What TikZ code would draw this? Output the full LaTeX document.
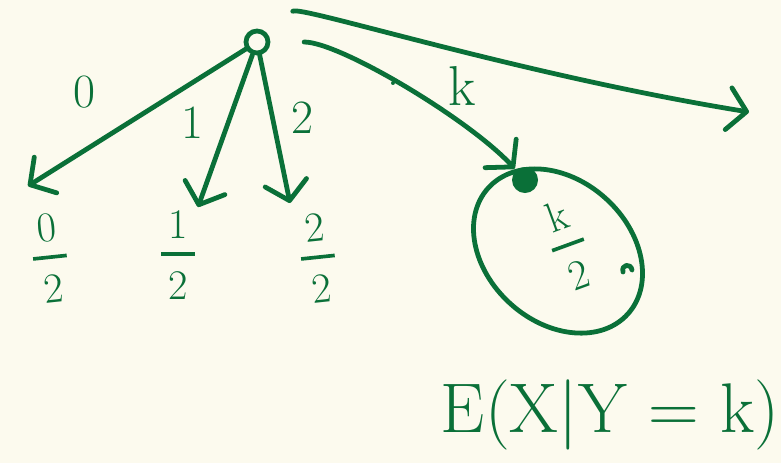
\documentclass[tikz,border=0pt]{standalone}
\usetikzlibrary{arrows.meta, shapes.geometric}
\definecolor{ink}{RGB}{10,112,56}
\definecolor{paper}{RGB}{252,250,238}
\newcommand{\inkfrac}[2]{#1\\\rule[9.2pt]{0.8em}{2.6pt}\\#2}

\begin{document}
\begin{tikzpicture}[
    x=0.025cm, y=-0.025cm,
    color=ink,
    line width=3.4pt, line cap=round, line join=round,
    >={Straight Barb[length=13pt, width=30pt, round]},
    edge/.style={->, draw=ink},
    rootnode/.style={draw=ink, circle, minimum size=0.55cm, inner sep=0pt},
    blobnode/.style={fill=ink, circle, minimum size=0.65cm, inner sep=0pt},
    ballnode/.style={draw=ink, ellipse, minimum width=4.7cm, minimum height=3.55cm, inner sep=0pt},
    lbl/.style={font=\fontsize{34}{40}\selectfont, inner sep=0pt},
    fracnode/.style={font=\fontsize{30}{22}\selectfont, align=center, inner sep=0pt}
]

% paper and fixed frame
\fill[paper] (0,0) rectangle (781,463);
\useasboundingbox (0,0) rectangle (781,463);

% root and the k-branch node
\node[rootnode] (root) at (257,42) {};
\node[blobnode] (kblob) at (525,180) {};

% free ends of the arrows
\coordinate (t0) at (28,186);
\coordinate (t1) at (198,207);
\coordinate (t2) at (290,203);
\coordinate (far) at (749,112);

% branches 0, 1, 2
\draw[edge] (root) -- (t0);
\draw[edge] (root) -- (t1);
\draw[edge] (root) -- (t2);
\node[lbl] (l0) at (84,92) {0};
\node[lbl] (l1) at (192,123) {1};
\node[lbl] (l2) at (302,118) {2};

% branch k and the open one
\draw[edge, shorten <=24pt] (root) .. controls (340,42) and (470,120) .. (kblob);
\node[lbl] (ldot) at (393,84) {.};
\node[lbl, font=\fontsize{40}{46}\selectfont] (lk) at (462,86) {k};
\draw[edge, shorten <=24pt] (root) .. controls (300,5) and (520,75) .. (far);

% values below the branches
\node[fracnode, rotate=6] (f0) at (50,258) {\inkfrac{0}{2}};
\node[fracnode] (f1) at (178,255) {\inkfrac{1}{2}};
\node[fracnode, rotate=6] (f2) at (318,258) {\inkfrac{2}{2}};

% value of branch k
\node[ballnode, rotate=-42] (kball) at (558,251) {};
\node[fracnode, rotate=20] (kval) at (568,245) {\inkfrac{k}{2}};
\draw (623,272) .. controls (621,264) and (631,263) .. (632,270);

% conditional expectation
\node[anchor=base, inner sep=0pt, font=\fontsize{50}{56}\selectfont] (cond) at (610,432) {E(X|Y = k)};

\end{tikzpicture}
\end{document}
